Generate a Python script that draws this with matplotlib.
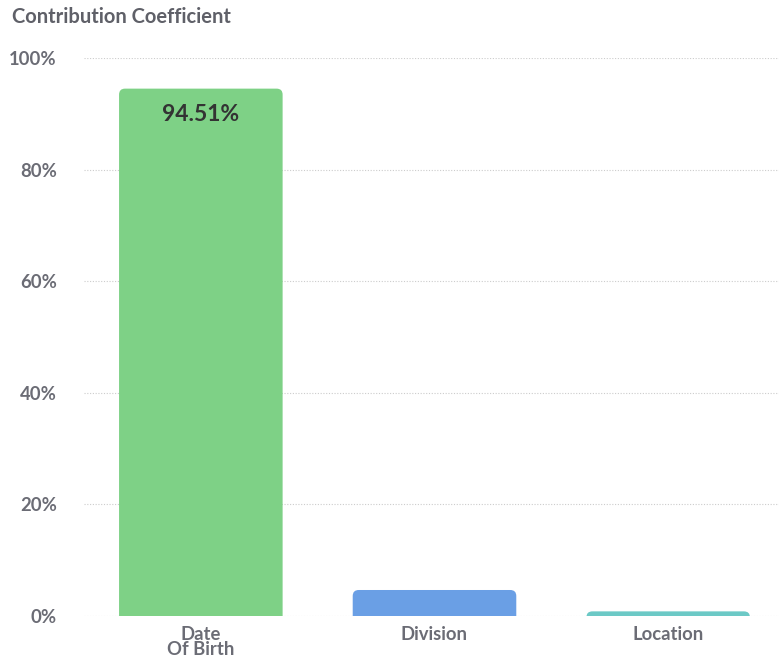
import matplotlib
matplotlib.use('Agg')
import matplotlib.pyplot as plt
from matplotlib.patches import FancyBboxPatch

# data
categories = ['Date\nOf Birth', 'Division', 'Location']
values = [94.51, 4.66, 0.83]
colors = ['#7ed186', '#6a9fe5', '#6cc9c6']
yticks = [0, 20, 40, 60, 80, 100]

plt.rcParams['font.family'] = ['Lato', 'DejaVu Sans']
text_gray = '#6b6c75'

fig = plt.figure(figsize=(7.79, 6.59), dpi=100)
ax_w = 701
ax = fig.add_axes([84 / 779, 43 / 659, ax_w / 779, 558 / 659])

bar_w = 0.70
# rounding radius in px -> data units
px_x = 3.0 / ax_w
px_y = 100.0 / 558
r_px = 6
for i, (v, c) in enumerate(zip(values, colors)):
    x0 = i - bar_w / 2
    y0 = -r_px * px_y
    patch = FancyBboxPatch((x0, y0), bar_w, v - y0,
                           boxstyle=f'round,pad=0,rounding_size={r_px * px_x}',
                           mutation_aspect=px_y / px_x,
                           facecolor=c, edgecolor='none', zorder=3)
    ax.add_patch(patch)

ax.text(0, values[0] - 4.6, f'{values[0]:.2f}%', ha='center', va='center',
        fontsize=16.5, fontweight='bold', color='#333333', zorder=4)

ax.set_xlim(-0.5, 2.5)
ax.set_ylim(0, 100)
ax.set_yticks(yticks)
ax.set_yticklabels([f'{t}%' for t in yticks])
ax.set_xticks(range(len(categories)))
ax.set_xticklabels(categories, linespacing=0.88)
ax.tick_params(axis='both', length=0, labelcolor=text_gray)
ax.tick_params(axis='y', pad=19.5, labelsize=13.3)
ax.tick_params(axis='x', pad=7, labelsize=13.3)
for lbl in ax.get_xticklabels() + ax.get_yticklabels():
    lbl.set_fontweight('bold')

ax.grid(axis='y', color='#cccccc', linestyle=(0, (1, 1.5)), linewidth=0.8, zorder=0)
for s in ax.spines.values():
    s.set_visible(False)

fig.text(12 / 779, 1 - 17 / 659, 'Contribution Coefficient', ha='left', va='center',
         fontsize=14.5, fontweight='bold', color='#5f6068')

plt.savefig('out.png', dpi=100)
plt.close(fig)
